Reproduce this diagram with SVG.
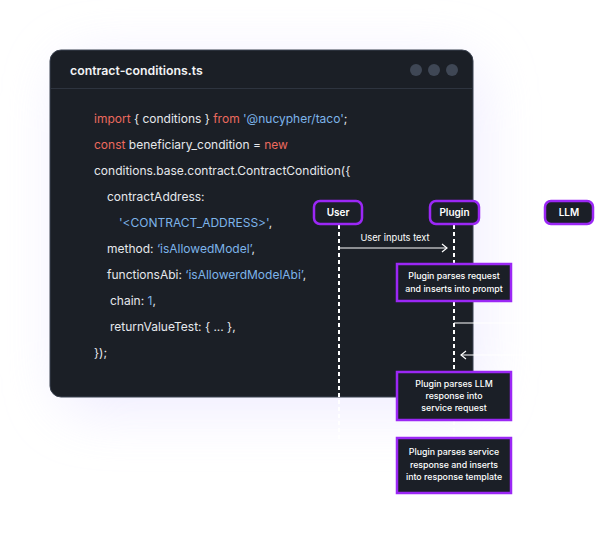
<svg xmlns="http://www.w3.org/2000/svg" width="595" height="540" viewBox="0 0 595 540">
<defs>
<filter id="glow" x="-50%" y="-50%" width="200%" height="200%"><feGaussianBlur stdDeviation="28"/></filter>
<marker id="open" markerWidth="10" markerHeight="10" refX="8" refY="5" orient="auto" markerUnits="userSpaceOnUse"><path d="M3,1 L8,5 L3,9" fill="none" stroke="#ffffff" stroke-width="1.2"/></marker>
<style>
.code{font-family:Inter,"Liberation Sans",sans-serif;font-size:12px;fill:#e6e8ec}
.kw{fill:#ec6a5e}
.str{fill:#7db4ea}
.actor rect{fill:#1b1f27;stroke:#9b27f5;stroke-width:2.5}
.actor text{font-family:Inter,"Liberation Sans",sans-serif;font-size:10px;font-weight:600;fill:#ffffff;text-anchor:middle}
.note rect{fill:#1b1f27;stroke:#9b27f5;stroke-width:2.5}
.note text{font-family:Inter,"Liberation Sans",sans-serif;font-size:8.8px;font-weight:500;fill:#ffffff;text-anchor:middle}
.life{stroke:#ffffff;stroke-width:2;stroke-dasharray:4 3;fill:none}
.msg{stroke:#ffffff;stroke-width:1.2;fill:none}
.lbl{font-family:Inter,"Liberation Sans",sans-serif;font-size:9.3px;fill:#ffffff;text-anchor:middle}
</style>
</defs>
<rect width="595" height="540" fill="#ffffff"/>
<rect x="60" y="60" width="420" height="350" rx="30" fill="#e9e5ff" opacity="0.75" filter="url(#glow)"/>
<g id="card">
<rect x="50" y="50" width="423" height="347" rx="11" fill="#1b1f26" stroke="#3b4250" stroke-width="1"/>
<line x1="50.5" y1="88.5" x2="472.5" y2="88.5" stroke="#2e343f" stroke-width="1"/>
<text x="70" y="75" font-family="Inter,'Liberation Sans',sans-serif" font-size="12.3" font-weight="600" fill="#f2f3f5">contract-conditions.ts</text>
<circle cx="416" cy="70" r="6" fill="#3f4755"/>
<circle cx="434" cy="70" r="6" fill="#3f4755"/>
<circle cx="452" cy="70" r="6" fill="#3f4755"/>
<text class="code" x="94" y="123"><tspan class="kw">import</tspan> { conditions } <tspan class="kw">from</tspan> <tspan class="str">'@nucypher/taco'</tspan>;</text>
<text class="code" x="94" y="149"><tspan class="kw">const</tspan> beneficiary_condition = <tspan class="kw">new</tspan></text>
<text class="code" x="94" y="175">conditions.base.contract.ContractCondition({</text>
<text class="code" x="107" y="201">contractAddress:</text>
<text class="code" x="119" y="227"><tspan class="str">'&lt;CONTRACT_ADDRESS&gt;'</tspan>,</text>
<text class="code" x="107" y="253">method: <tspan class="str">‘isAllowedModel’</tspan>,</text>
<text class="code" x="107" y="279">functionsAbi: <tspan class="str">‘isAllowerdModelAbi’</tspan>,</text>
<text class="code" x="110" y="305">chain: <tspan class="str">1</tspan>,</text>
<text class="code" x="110" y="331">returnValueTest: { ... },</text>
<text class="code" x="94" y="357">});</text>
</g>
<g id="connectors">
<line class="life" x1="339" y1="225" x2="339" y2="440"/>
<line class="life" x1="454" y1="225" x2="454" y2="263"/>
<line class="life" x1="454" y1="302" x2="454" y2="371"/>
<line class="life" x1="454" y1="421" x2="454" y2="437"/>
<line class="life" x1="569" y1="225" x2="569" y2="440"/>
<line class="msg" x1="339" y1="248" x2="447" y2="248" marker-end="url(#open)"/>
<text class="lbl" x="395" y="241">User inputs text</text>
<line class="msg" x1="454" y1="323" x2="562" y2="323" marker-end="url(#open)"/>
<line class="msg" x1="569" y1="355" x2="461" y2="355" marker-end="url(#open)"/>
</g>
<g id="user" class="actor"><rect x="314" y="201" width="48" height="23" rx="6"/><text x="338" y="216">User</text></g>
<g id="plugin" class="actor"><rect x="430" y="201" width="49" height="23" rx="6"/><text x="454.5" y="216">Plugin</text></g>
<g id="llm" class="actor"><rect x="545" y="201" width="48" height="23" rx="6"/><text x="569" y="216">LLM</text></g>
<g id="note1" class="note"><rect x="397" y="264" width="114" height="37"/><text x="454" y="279">Plugin parses request</text><text x="454" y="292">and inserts into prompt</text></g>
<g id="note2" class="note"><rect x="397" y="372" width="114" height="48"/><text x="454" y="387">Plugin parses LLM</text><text x="454" y="399">response into</text><text x="454" y="411">service request</text></g>
<g id="note3" class="note"><rect x="397" y="438" width="114" height="55"/><text x="454" y="455">Plugin parses service</text><text x="454" y="468">response and inserts</text><text x="454" y="480">into response template</text></g>
</svg>
